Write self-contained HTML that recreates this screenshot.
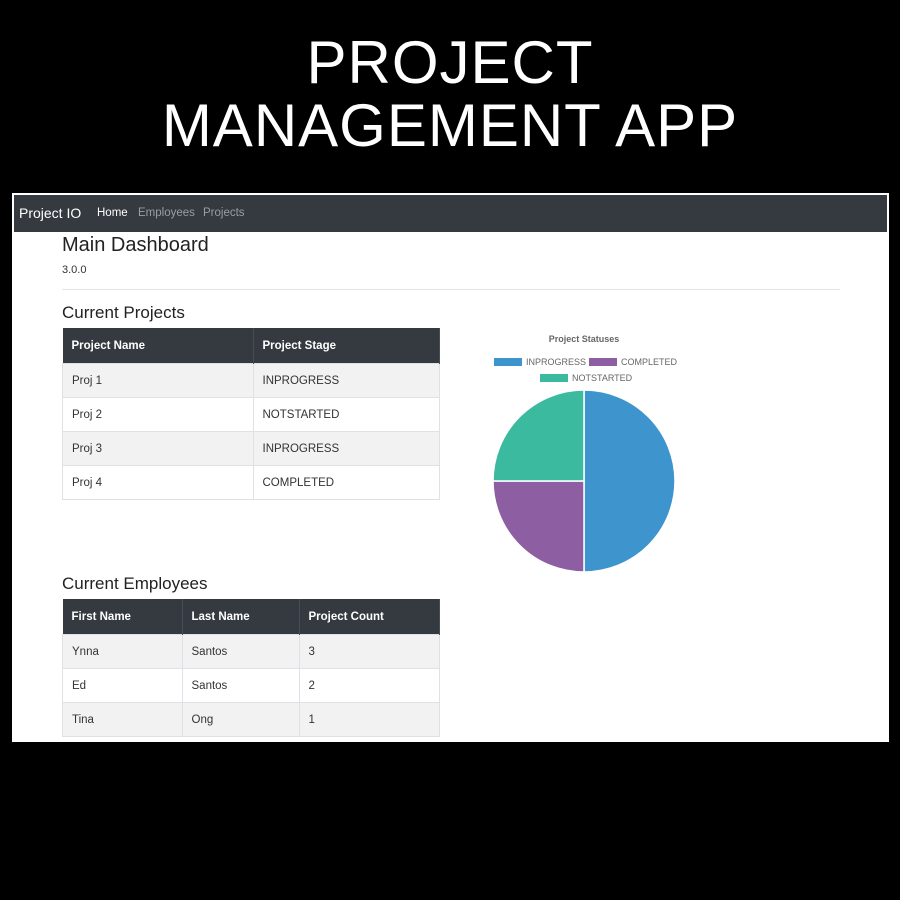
<!DOCTYPE html>
<html><head><style>
body{margin:0;width:900px;height:900px;background:#000;position:relative;overflow:hidden;font-family:"Liberation Sans",sans-serif}
.a{position:absolute}
.t{position:absolute;left:0;width:900px;text-align:center;color:#fff;font-size:60px;letter-spacing:1px;line-height:60px}
.panel{left:12px;top:193px;width:877px;height:549px;background:#fff}
.nav{left:14px;top:195px;width:873px;height:37px;background:#343a40}
table{position:absolute;border-collapse:collapse;font-size:11.5px;color:#333}
th{background:#343a40;color:#fff;text-align:left;padding:0 9px;height:35px;font-weight:bold;border-right:1px solid #454d55}
td{height:33px;padding:0 9px;border:1px solid #dee2e6}
tr.o td{background:#f2f2f2}
h2{margin:0;font-weight:normal;color:#222}
</style></head><body>
<div class="t" style="top:33px">PROJECT</div>
<div class="t" style="top:96px">MANAGEMENT APP</div>
<div class="a panel"></div>
<div class="a nav"></div>
<div class="a" style="left:19px;top:205px;color:#fff;font-size:14px">Project IO</div>
<div class="a" style="left:97px;top:207px;color:#fff;font-size:11.5px">Home</div>
<div class="a" style="left:138px;top:207px;color:#9a9da0;font-size:11.5px">Employees</div>
<div class="a" style="left:203px;top:207px;color:#9a9da0;font-size:11.5px">Projects</div>
<h2 class="a" style="left:62px;top:234px;font-size:20px">Main Dashboard</h2>
<div class="a" style="left:62px;top:264px;font-size:11px;color:#333">3.0.0</div>
<div class="a" style="left:62px;top:289px;width:778px;height:1px;background:#e5e5e5"></div>
<h2 class="a" style="left:62px;top:303px;font-size:17px">Current Projects</h2>
<table style="left:62px;top:328px;width:378px">
<tr><th style="width:172px">Project Name</th><th>Project Stage</th></tr>
<tr class="o"><td>Proj 1</td><td>INPROGRESS</td></tr>
<tr><td>Proj 2</td><td>NOTSTARTED</td></tr>
<tr class="o"><td>Proj 3</td><td>INPROGRESS</td></tr>
<tr><td>Proj 4</td><td>COMPLETED</td></tr>
</table>
<h2 class="a" style="left:62px;top:574px;font-size:17px">Current Employees</h2>
<table style="left:62px;top:599px;width:378px">
<tr><th style="width:101px">First Name</th><th style="width:98px">Last Name</th><th>Project Count</th></tr>
<tr class="o"><td>Ynna</td><td>Santos</td><td>3</td></tr>
<tr><td>Ed</td><td>Santos</td><td>2</td></tr>
<tr class="o"><td>Tina</td><td>Ong</td><td>1</td></tr>
</table>
<svg class="a" style="left:470px;top:320px" width="230" height="260">
<text x="114" y="22" font-size="9" font-weight="bold" fill="#666" text-anchor="middle" font-family="Liberation Sans">Project Statuses</text>
<rect x="24" y="38" width="28" height="8" fill="#3e95cd"/><text x="56" y="45" font-size="9" fill="#666" font-family="Liberation Sans">INPROGRESS</text>
<rect x="119" y="38" width="28" height="8" fill="#8e5ea2"/><text x="151" y="45" font-size="9" fill="#666" font-family="Liberation Sans">COMPLETED</text>
<rect x="70" y="54" width="28" height="8" fill="#3cba9f"/><text x="102" y="61" font-size="9" fill="#666" font-family="Liberation Sans">NOTSTARTED</text>
<path d="M114 161 L114 70 A91 91 0 0 1 114 252 Z" fill="#3e95cd" stroke="#fff" stroke-width="1.5"/>
<path d="M114 161 L114 252 A91 91 0 0 1 23 161 Z" fill="#8e5ea2" stroke="#fff" stroke-width="1.5"/>
<path d="M114 161 L23 161 A91 91 0 0 1 114 70 Z" fill="#3cba9f" stroke="#fff" stroke-width="1.5"/>
</svg>
</body></html>
